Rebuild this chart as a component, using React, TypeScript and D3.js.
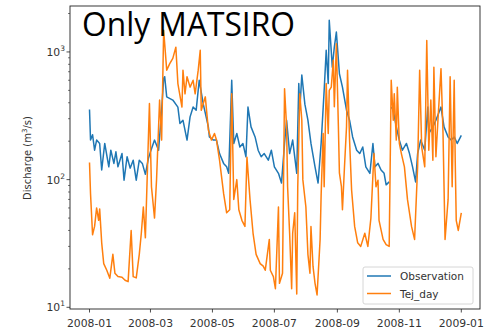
import React from "react";
import * as d3 from "d3";

const obsDays = [0,1,3,5,7,10,12,15,19,21,24,26,28,32,34,37,40,43,46,49,52,55,58,60,64,68,71,73,74,76,82,87,89,92,96,99,102,105,108,112,117,118,122,125,128,132,135,137,140,142,145,148,151,154,156,159,163,166,169,172,176,179,182,186,189,192,194,197,200,204,206,207,209,212,215,218,222,225,228,231,233,235,236,239,241,243,246,249,253,256,259,263,266,269,272,276,279,281,284,287,290,292,295,296,297,299,302,305,308,312,315,318,321,323,326,330,333,334,338,341,346,349,353,356,359,362,366];
const obsValues = [354,204,225,170,204,192,119,192,126,170,134,165,126,160,99,151,123,142,99,142,134,110,147,165,204,170,350,620,640,445,420,370,275,292,204,310,370,350,600,390,259,216,204,204,160,134,126,112,600,192,230,180,192,151,370,259,216,170,151,160,142,170,126,112,94,192,292,160,204,112,565,350,660,390,292,192,126,94,192,500,1030,565,1770,760,1090,1430,675,530,350,292,216,170,160,180,126,112,192,126,134,119,112,91,96,NaN,370,350,259,204,170,192,160,126,96,160,204,170,370,230,259,292,370,259,216,204,216,192,222];

const simDays = [0,1,3,5,7,9,10,12,14,17,20,23,25,28,32,35,38,41,43,46,49,51,53,55,59,61,64,66,69,71,73,76,79,82,85,87,91,92,94,96,99,102,104,107,109,110,114,117,120,123,125,128,132,135,138,140,142,145,147,150,153,155,158,161,164,168,171,173,177,178,181,183,186,187,190,192,194,195,197,199,200,202,204,205,207,209,210,213,215,217,218,220,222,224,227,228,230,231,233,235,236,238,240,241,243,245,246,248,249,251,253,254,256,258,261,264,267,271,274,277,280,282,284,285,289,292,295,297,299,300,302,303,305,307,310,313,317,320,323,325,327,330,332,334,336,338,339,341,343,346,348,350,353,355,357,359,360,361,363,366];
const simValues = [136,78,37,43,60,48,59,32,22,19.5,16.9,26,18.5,17.4,17.2,16.3,15.9,40,17.4,17,26,38,61,35,394,88,50,100,420,204,1480,720,810,890,1090,565,370,720,470,640,530,600,470,720,1030,350,445,245,204,230,204,142,78,55,58,470,70,100,58,48,43,150,70,38,26,22,21,19.5,34,19.5,17.4,14,61,15.4,18.5,515,260,88,38,14,38,55,12.7,88,470,292,100,61,26,18.5,43,21,15.4,12.5,34,75,230,88,565,230,500,530,860,372,1160,259,113,88,58,126,259,720,204,83,43,32,30,38,30,50,160,88,99,48,34,31,30,600,292,470,204,530,192,160,126,70,43,34,126,720,180,126,1230,170,420,142,760,151,292,740,230,34,70,640,88,600,142,48,40,55];

const seriesNames = ["Observation", "Tej_day"];
const xTickLabels = ["2008-01","2008-03","2008-05","2008-07","2008-09","2008-11","2009-01"];
const yTickExponents = [1, 2, 3];
const titleText = "Only MATSIRO";
const yLabel = "Discharge (m";

const W = 484, H = 331;
const L = 70, R = 480, T = 6, B = 309;
const base = Date.UTC(2008, 0, 1);
const dayMs = 86400000;
const toDate = (d: number) => new Date(base + d * dayMs);

export default function App() {
  const x = d3.scaleUtc()
    .domain([toDate(-19.2), toDate(384.4)])
    .range([L, R]);
  const y = d3.scaleLog().domain([9.7, 2290]).range([B, T]);

  const obs = obsDays.map((d, i) => ({ t: toDate(d), v: obsValues[i] }));
  const sim = simDays.map((d, i) => ({ t: toDate(d), v: simValues[i] }));
  const line = d3.line<{ t: Date; v: number }>()
    .defined((p) => !isNaN(p.v))
    .x((p) => x(p.t))
    .y((p) => y(p.v));

  const xTicks = xTickLabels.map((s) => {
    const [yy, mm] = s.split("-").map(Number);
    return { s, t: new Date(Date.UTC(yy, mm - 1, 1)) };
  });
  const minor: number[] = [];
  for (let e = 0; e <= 3; e++) {
    for (let k = 2; k <= 9; k++) {
      const v = k * Math.pow(10, e);
      if (v >= 9.7 && v <= 2290) minor.push(v);
    }
  }
  const font = "DejaVu Sans, sans-serif";
  const tickColor = "#333";

  return (
    <svg width={W} height={H} style={{ position: "absolute", left: 0, top: 0, background: "#fff" }}>
      <rect x={0} y={0} width={W} height={H} fill="#fff" />
      <defs>
        <clipPath id="plotclip">
          <rect x={L} y={T} width={R - L} height={B - T} />
        </clipPath>
      </defs>
      <g clipPath="url(#plotclip)">
        <path d={line(obs) || ""} fill="none" stroke="#1f77b4" strokeWidth={1.5} strokeLinejoin="round" />
        <path d={line(sim) || ""} fill="none" stroke="#ff7f0e" strokeWidth={1.5} strokeLinejoin="round" />
      </g>
      <rect x={L} y={T} width={R - L} height={B - T} fill="none" stroke="#222" strokeWidth={0.9} />
      {xTicks.map((tk) => (
        <g key={tk.s}>
          <line x1={x(tk.t)} x2={x(tk.t)} y1={B} y2={B + 3.5} stroke="#222" strokeWidth={0.8} />
          <text x={x(tk.t)} y={327} textAnchor="middle" fontFamily={font} fontSize={10.8} fill={tickColor}>{tk.s}</text>
        </g>
      ))}
      {yTickExponents.map((e) => {
        const yy = y(Math.pow(10, e));
        return (
          <g key={e}>
            <line x1={L - 3.5} x2={L} y1={yy} y2={yy} stroke="#222" strokeWidth={0.8} />
            <text x={L - 5} y={yy + 4} textAnchor="end" fontFamily={font} fontSize={10.8} fill={tickColor}>
              10<tspan dy={-5} fontSize={7.5}>{e}</tspan>
            </text>
          </g>
        );
      })}
      {minor.map((v) => (
        <line key={v} x1={L - 2} x2={L} y1={y(v)} y2={y(v)} stroke="#222" strokeWidth={0.6} />
      ))}
      <text transform={`translate(31,158) rotate(-90)`} textAnchor="middle" fontFamily={font} fontSize={10} fill={tickColor}>
        {yLabel}<tspan dy={-4} fontSize={7}>3</tspan><tspan dy={4}>/s)</tspan>
      </text>
      <g>
        <rect x={363} y={267} width={110} height={37} rx={2} fill="#fff" fillOpacity={0.8} stroke="#ccc" strokeWidth={0.8} />
        {seriesNames.map((n, i) => (
          <g key={n}>
            <line x1={367} x2={391} y1={276 + i * 17.5} y2={276 + i * 17.5} stroke={i === 0 ? "#1f77b4" : "#ff7f0e"} strokeWidth={1.5} />
            <text x={400} y={280 + i * 17.5} fontFamily={font} fontSize={10.5} fill={tickColor}>{n}</text>
          </g>
        ))}
      </g>
      <text x={82} y={36} fontFamily="Open Sans, sans-serif" fontSize={33} fill="#000" textLength={213} lengthAdjust="spacingAndGlyphs">{titleText}</text>
    </svg>
  );
}
